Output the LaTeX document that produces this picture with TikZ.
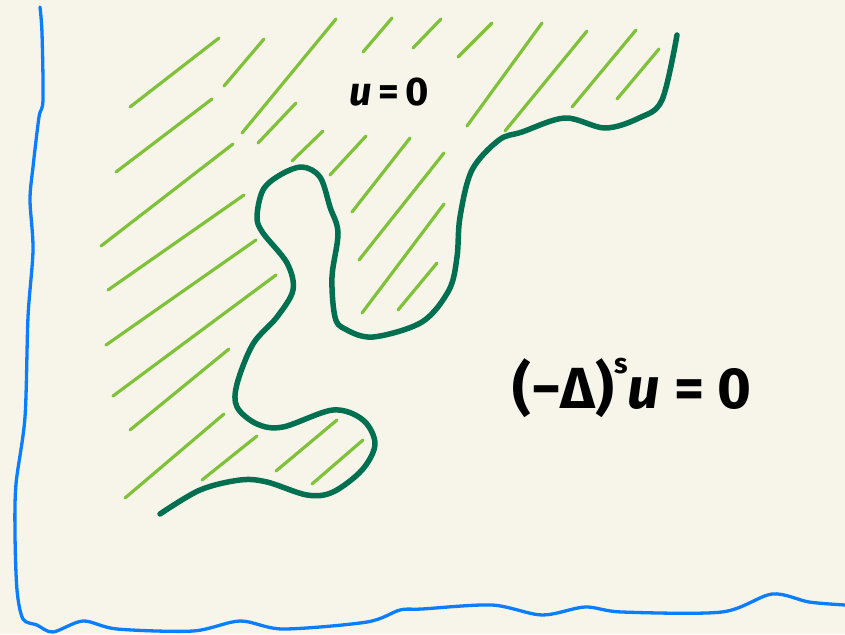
\documentclass[tikz,border=0pt]{standalone}
\usepackage{fontspec}
\setmainfont{Fira Sans}
\begin{document}
\begin{tikzpicture}[x=1pt,y=-1pt,
  hatch/.style={draw=hatchgreen,line width=3.2pt,line cap=round},
  boundary/.style={draw=darkgreen,line width=5.5pt,line cap=round,line join=round},
  axis/.style={draw=axisblue,line width=3.3pt,line cap=round,line join=round},
  label/.style={text=black,inner sep=0pt}]
\definecolor{bgcol}{HTML}{F7F5EA}
\definecolor{hatchgreen}{HTML}{7FC23A}
\definecolor{darkgreen}{HTML}{007050}
\definecolor{axisblue}{HTML}{0A7EFF}
\fill[bgcol] (0,0) rectangle (845,634);
\useasboundingbox (0,0) rectangle (845,634);
% hatch lines
\foreach \a/\b in {
 {(130,107)}/{(219,38)}, {(224,86)}/{(264,39)}, {(242,133)}/{(336,19)},
 {(363,52)}/{(392,18)}, {(413,48)}/{(441,19)}, {(116,172)}/{(212,99)},
 {(258,143)}/{(296,103)}, {(292,161)}/{(323,131)}, {(330,175)}/{(366,136)},
 {(101,246)}/{(233,144)}, {(352,212)}/{(410,138)}, {(108,290)}/{(244,195)},
 {(359,260)}/{(444,153)}, {(106,345)}/{(256,240)}, {(113,396)}/{(276,275)},
 {(362,313)}/{(444,204)}, {(398,310)}/{(437,263)}, {(458,57)}/{(492,23)},
 {(467,126)}/{(542,23)}, {(505,131)}/{(587,31)}, {(572,107)}/{(636,30)},
 {(617,99)}/{(659,49)}, {(130,430)}/{(229,349)}, {(125,498)}/{(224,414)},
 {(202,480)}/{(257,436)}, {(276,471)}/{(337,420)}, {(312,484)}/{(363,440)}}
  \draw[hatch] \a -- \b;
% boundary curve
\draw[boundary] plot[smooth,tension=0.55] coordinates {
 (160,514) (200,490) (240,480) (267,482) (307,495) (333,492) (362,470) (375,444)
 (363,420) (333,410) (283,427) (257,424) (237,407) (237,384) (253,344) (277,317)
 (293,290) (287,263) (263,233) (257,217) (263,190) (280,175) (302,167) (320,177)
 (330,207) (338,233) (332,277) (335,317) (345,329) (373,337) (422,322) (449,290)
 (457,257) (460,217) (472,170) (499,140) (522,132) (565,118) (605,128) (639,118)
 (662,100) (677,35)};
% axes
\draw[axis] plot[smooth,tension=0.5] coordinates {
 (40,7) (42,33) (43,100) (39,117) (33,167) (30,200) (33,250) (28,317) (25,417)
 (16,484) (15,534) (17,590) (23,619) (37,625) (53,632) (83,621) (117,629) (193,631)
 (240,621) (283,629) (367,622) (400,610) (422,609) (492,605) (542,615) (585,607)
 (622,612) (722,612) (772,594) (809,602) (845,605)};
% labels
\node[label,font=\bfseries\fontsize{40}{40}\selectfont] (uzero) at (389,92) {\itshape u\upshape\,=\,0};
\node[label,font=\bfseries\fontsize{58}{58}\selectfont] (eq) at (632,388) {(−Δ)\raisebox{0.6em}{\fontsize{28}{28}\selectfont s}\itshape u\upshape\ = 0};
\end{tikzpicture}
\end{document}
